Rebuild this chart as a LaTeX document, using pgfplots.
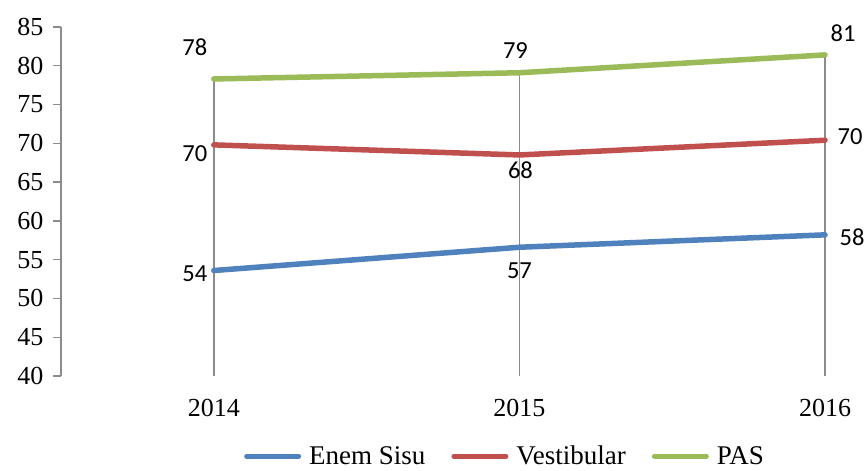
\documentclass[border=0pt]{standalone}
\usepackage{fontspec}
\setmainfont{Liberation Serif}
\newfontfamily\calibri{Carlito}
\usepackage{pgfplots}
\pgfplotsset{compat=1.18}
\definecolor{cblue}{HTML}{4F81BD}
\definecolor{cred}{HTML}{C0504D}
\definecolor{cgreen}{HTML}{9BBB59}
\definecolor{cgray}{HTML}{8C8C8C}
\begin{document}
\begin{tikzpicture}
\begin{axis}[
  scale only axis,
  width=805pt, height=349pt,
  xmin=2013.5, xmax=2016.134,
  ymin=40, ymax=85,
  clip=false,
  axis y line*=left,
  axis x line*=bottom,
  x axis line style={draw=none},
  y axis line style={cgray, line width=1.4pt},
  ytick={40,45,...,85},
  xtick={2014,2015,2016},
  xticklabels={2014,2015,2016},
  xtick style={draw=none},
  ytick style={cgray, line width=1.4pt},
  tick align=outside,
  major tick length=8pt,
  /pgf/number format/assume math mode=true,
  ticklabel style={font=\fontsize{26}{28}\selectfont, text=black},
  yticklabel style={xshift=-6pt},
  xticklabel style={yshift=-12pt},
  legend style={draw=none, fill=none, at={(0.5516,-0.230)}, anchor=center,
    font=\fontsize{27}{29}\selectfont, legend columns=3, inner sep=0pt,
    /tikz/every odd column/.append style={column sep=6pt},
    /tikz/every even column/.append style={column sep=24pt}},
  legend image code/.code={\draw[#1, line width=5pt, line cap=round] (0pt,0pt) -- (52pt,0pt);},
]
\addplot[cgray, line width=1.5pt, forget plot] coordinates {(2014,40) (2014,78.3)};
\addplot[cgray, line width=1.5pt, forget plot] coordinates {(2015,40) (2015,79.1)};
\addplot[cgray, line width=1.5pt, forget plot] coordinates {(2016,40) (2016,81.4)};
\addplot[cblue, line width=5.5pt, line cap=round, line join=round] coordinates {(2014,53.6) (2015,56.6) (2016,58.2)};
\addlegendentry{Enem Sisu}
\addplot[cred, line width=5.5pt, line cap=round, line join=round] coordinates {(2014,69.8) (2015,68.5) (2016,70.4)};
\addlegendentry{Vestibular}
\addplot[cgreen, line width=5.5pt, line cap=round, line join=round] coordinates {(2014,78.3) (2015,79.1) (2016,81.4)};
\addlegendentry{PAS}
\begin{scope}[every node/.style={font=\calibri\fontsize{24.5}{26}\selectfont, inner sep=0pt}]
\node at ([xshift=-19pt,yshift=32pt]axis cs:2014,78.3) {78};
\node at ([xshift=-19pt,yshift=-9pt]axis cs:2014,69.8) {70};
\node at ([xshift=-19pt,yshift=-3pt]axis cs:2014,53.6) {54};
\node at ([xshift=-4pt,yshift=22pt]axis cs:2015,79.1) {79};
\node at ([xshift=1pt,yshift=-15pt]axis cs:2015,68.5) {68};
\node at ([xshift=0pt,yshift=-23pt]axis cs:2015,56.6) {57};
\node at ([xshift=18pt,yshift=22pt]axis cs:2016,81.4) {81};
\node at ([xshift=25pt,yshift=4pt]axis cs:2016,70.4) {70};
\node at ([xshift=27pt,yshift=-2pt]axis cs:2016,58.2) {58};
\end{scope}
\end{axis}
\pgfresetboundingbox
\useasboundingbox ([xshift=-61pt,yshift=-95pt]current axis.south west) rectangle ([yshift=27pt]current axis.north east);
\end{tikzpicture}
\end{document}
